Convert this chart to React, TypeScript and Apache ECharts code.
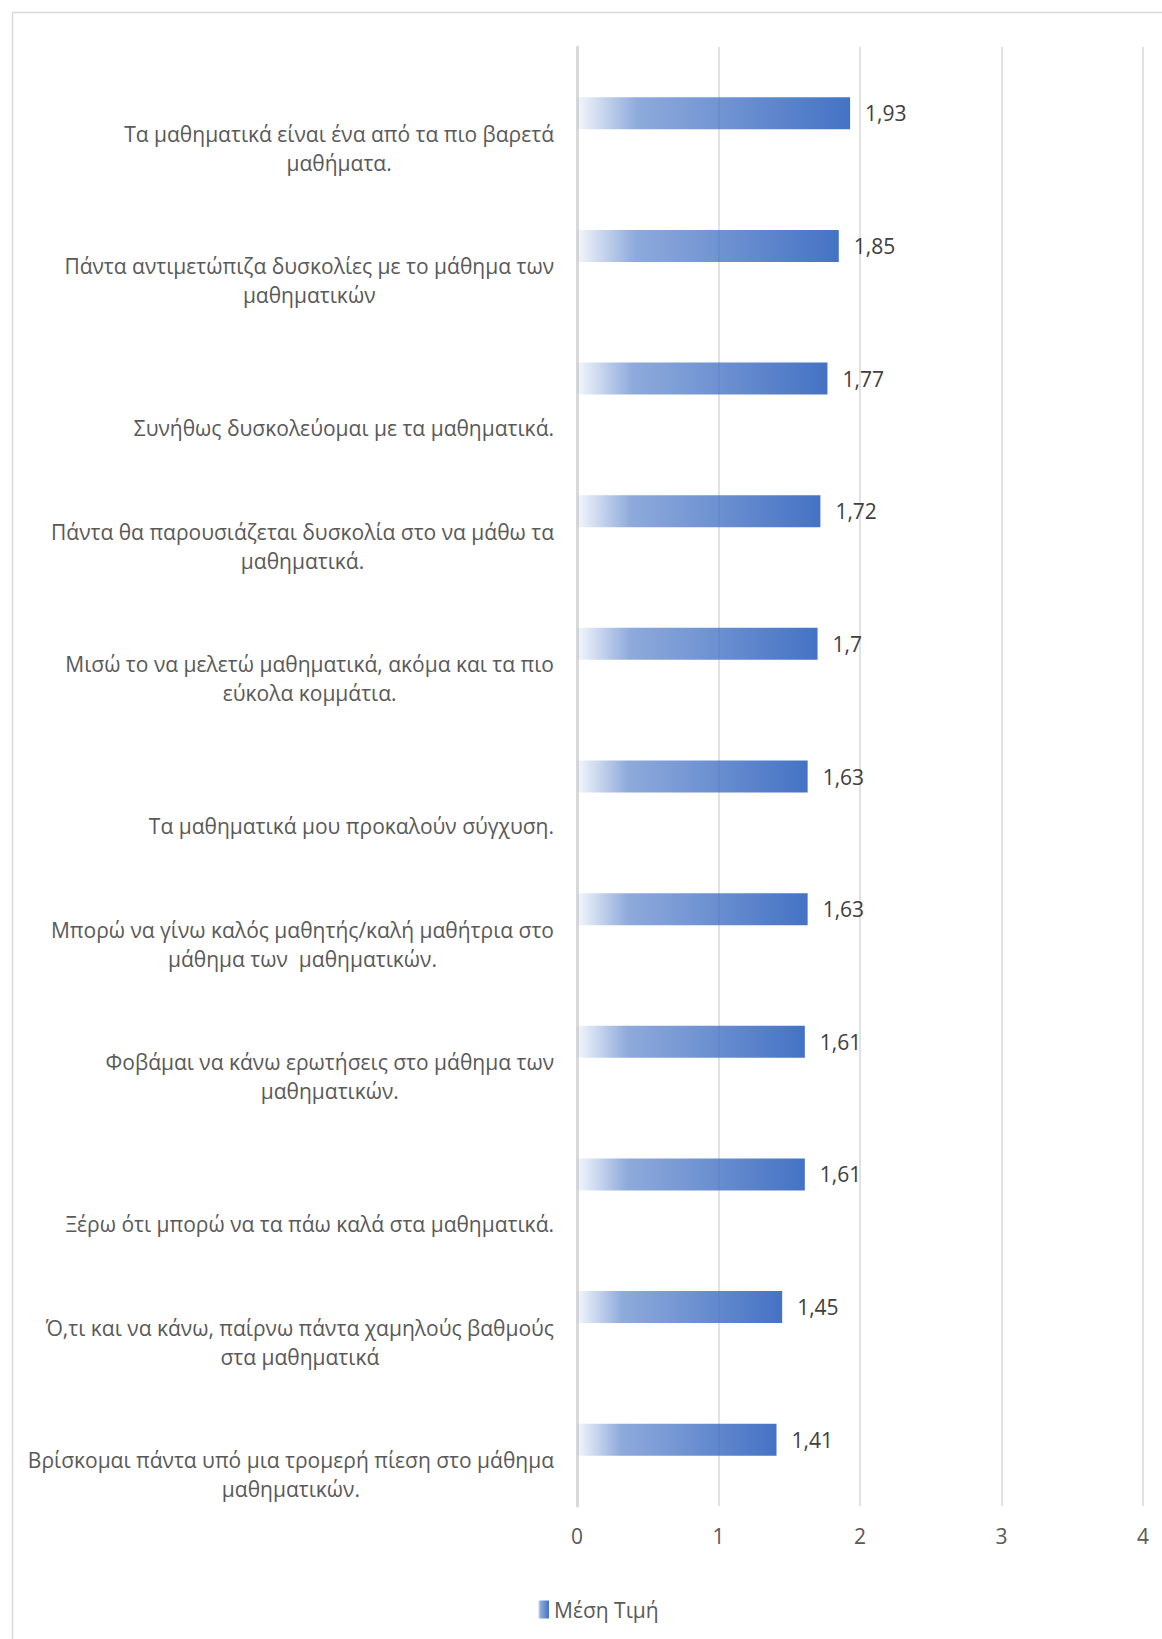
import React, { useEffect, useRef } from "react";
import * as echarts from "echarts";

const categories = [
  "Τα μαθηματικά είναι ένα από τα πιο βαρετά\nμαθήματα.",
  "Πάντα αντιμετώπιζα δυσκολίες με το μάθημα των\nμαθηματικών",
  "Συνήθως δυσκολεύομαι με τα μαθηματικά.",
  "Πάντα θα παρουσιάζεται δυσκολία στο να μάθω τα\nμαθηματικά.",
  "Μισώ το να μελετώ μαθηματικά, ακόμα και τα πιο\nεύκολα κομμάτια.",
  "Τα μαθηματικά μου προκαλούν σύγχυση.",
  "Μπορώ να γίνω καλός μαθητής/καλή μαθήτρια στο\nμάθημα των  μαθηματικών.",
  "Φοβάμαι να κάνω ερωτήσεις στο μάθημα των\nμαθηματικών.",
  "Ξέρω ότι μπορώ να τα πάω καλά στα μαθηματικά.",
  "Ό,τι και να κάνω, παίρνω πάντα χαμηλούς βαθμούς\nστα μαθηματικά",
  "Βρίσκομαι πάντα υπό μια τρομερή πίεση στο μάθημα\nμαθηματικών.",
];
const meanValues = [1.93, 1.85, 1.77, 1.72, 1.7, 1.63, 1.63, 1.61, 1.61, 1.45, 1.41];
const seriesName = "Μέση Τιμή";
const xTicks = [0, 1, 2, 3, 4];

const FONT = "'Open Sans', 'Noto Sans', sans-serif";

export default function App() {
  const ref = useRef<HTMLDivElement>(null);
  useEffect(() => {
    if (!ref.current) return;
    const chart = echarts.init(ref.current, null, { renderer: "svg" });
    const grad = new echarts.graphic.LinearGradient(0, 0, 1, 0, [
      { offset: 0, color: "rgba(68,114,196,0.06)" },
      { offset: 0.22, color: "rgba(68,114,196,0.6)" },
      { offset: 1, color: "rgba(68,114,196,1)" },
    ]);
    chart.setOption({
      animation: false,
      textStyle: { fontFamily: FONT },
      graphic: [
        {
          type: "rect",
          shape: { x: 12.5, y: 12.5, width: 1200, height: 1700 },
          style: { fill: "none", stroke: "#d9d9d9", lineWidth: 1.5 },
          silent: true,
        },
      ],
      legend: {
        data: [seriesName],
        left: 533,
        top: 1594,
        itemWidth: 11,
        itemHeight: 18,
        itemGap: 4,
        textStyle: { color: "#595959", fontSize: 21, fontFamily: FONT },
        icon: "rect",
      },
      grid: { left: 577, right: 19, top: 47, bottom: 133, containLabel: false },
      xAxis: {
        type: "value",
        min: xTicks[0],
        max: xTicks[xTicks.length - 1],
        interval: 1,
        axisLine: { show: false },
        axisTick: { show: false },
        splitLine: { show: true, lineStyle: { color: "#d9d9d9", width: 1.5 } },
        axisLabel: { color: "#595959", fontSize: 21, margin: 19, fontFamily: FONT },
      },
      yAxis: {
        type: "category",
        inverse: true,
        data: categories,
        axisLine: { show: true, lineStyle: { color: "#d9d9d9", width: 3 } },
        axisTick: { show: false },
        axisLabel: {
          align: "right",
          verticalAlign: "bottom",
          margin: 23,
          padding: [0, 0, -64, 0],
          lineHeight: 29,
          formatter: (v: string) =>
            v
              .split("\n")
              .map((l) => "{c|" + l + "}")
              .join("\n"),
          rich: {
            c: {
              align: "center",
              lineHeight: 29,
              fontSize: 21,
              color: "#595959",
              fontFamily: FONT,
            },
          },
        },
      },
      series: [
        {
          name: seriesName,
          type: "bar",
          data: meanValues,
          barWidth: 32,
          itemStyle: { color: grad },
          label: {
            show: true,
            position: "right",
            distance: 15,
            color: "#404040",
            fontSize: 21,
            fontFamily: FONT,
            formatter: (p: any) => String(p.value).replace(".", ","),
          },
        },
      ],
    });
    return () => chart.dispose();
  }, []);
  return (
    <div
      ref={ref}
      style={{ position: "absolute", left: 0, top: 0, width: 1162, height: 1639, background: "#fff" }}
    />
  );
}
